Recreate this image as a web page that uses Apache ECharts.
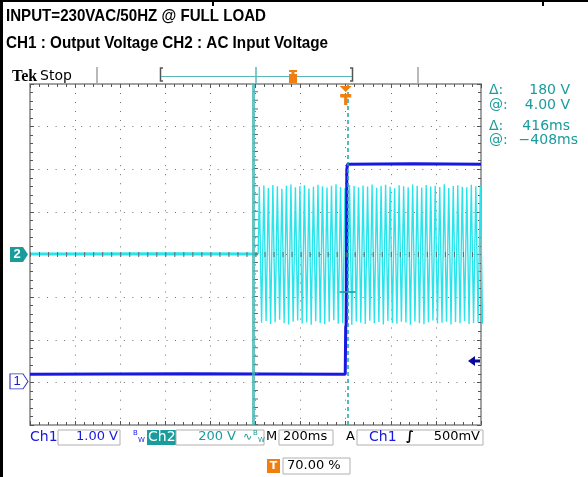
<!DOCTYPE html>
<html>
<head>
<meta charset="utf-8">
<script src="https://cdn.jsdelivr.net/npm/echarts@6/dist/echarts.min.js"></script>
<style>
html, body { margin: 0; padding: 0; background: #fff; }
#chart { width: 588px; height: 477px; }
</style>
</head>
<body>
<div id="chart"></div>
<script>
// scope settings
const timeMin = -1400, timeMax = 600, timeDiv = 200;   // ms, trigger at 70 %
const ch2Min = -800, ch2Max = 800, ch2Div = 200;        // V, 200 V/div
const ch1Min = -1, ch1Max = 7;                          // V, 1.00 V/div

// CH1 : output voltage
const ch1Time = [-1400, -700, -2, 0, 2, 5, 9, 300, 600];
const ch1Volt = [0.19, 0.2, 0.19, 1.3, 1.35, 5.0, 5.12, 5.13, 5.12];

// CH2 : AC input, flat until the mains comes on
const ch2FlatTime = [-1400, -700, -388];
const ch2FlatVolt = [2, 3, 2];
// then one peak per half cycle of 50 Hz (10 ms apart)
const ch2Start = -383, ch2Step = 10;
const ch2Peaks = [
  318, -320, 324, -312, 312, -326, 326, -318, 320, -306, 308, -322, 322, -328, 328, -315,
  315, -310, 321, -324, 325, -319, 310, -330, 318, -313, 327, -321, 320, -327, 314, -316,
  323, -309, 329, -325, 317, -322, 312, -318, 326, -329, 321, -314, 316, -320, 324, -326,
  319, -311, 328, -323, 313, -317, 322, -328, 327, -312, 318, -321, 311, -325, 325, -316,
  320, -319, 316, -330, 328, -314, 322, -322, 314, -327, 326, -318, 319, -310, 323, -324,
  317, -320, 329, -315, 312, -328, 321, -317, 325, -323, 318, -312, 315, -326, 327, -321,
  320, -319, 324, -325
];

// cursors and trigger
const cursorT1 = -408, cursorT2 = 8, cursorMarkV = -176;
const trigTime = 0, trigLevel = 0.5;
const readoutLabels = ['Δ:', '@:', 'Δ:', '@:'];
const readoutValues = ['180 V', '4.00 V', '416ms', '−408ms'];

const blue = '#1818e0';
const cyan = '#2ae4ec';
const teal = '#1a9c9c';
const orange = '#f07f10';
const frameGrey = '#a2a2a2';
const dotGrey = '#6e6e6e';

const ch1Data = ch1Time.map((t, i) => [t, ch1Volt[i]]);
const ch2FlatData = ch2FlatTime.map((t, i) => [t, ch2FlatVolt[i]]);
const ch2AcData = [ch2FlatData[ch2FlatData.length - 1]]
  .concat(ch2Peaks.map((v, i) => [ch2Start + i * ch2Step, v]));

const chart = echarts.init(document.getElementById('chart'));

function edgeAxis(pos, extra) {
  return Object.assign({
    type: 'value',
    position: pos,
    axisLine: { show: true, onZero: false, lineStyle: { color: frameGrey, width: 2 } },
    axisTick: { show: true, inside: true, length: 4, lineStyle: { color: '#555' } },
    minorTick: { show: true, splitNumber: 5, length: 3, lineStyle: { color: '#555' } },
    axisLabel: { show: false },
    splitLine: { show: false }
  }, extra);
}

function txt(x, y, s, color, font, align) {
  return {
    type: 'text', x: x, y: y, silent: true,
    style: { text: s, fill: color, font: font || '13px "DejaVu Sans"', align: align || 'left', verticalAlign: 'middle' }
  };
}
function box(x, y, w, h, fill, stroke) {
  return { type: 'rect', silent: true, shape: { x: x, y: y, width: w, height: h },
    style: { fill: fill || 'none', stroke: stroke || null } };
}
function seg(x1, y1, x2, y2, color, w) {
  return { type: 'line', silent: true, shape: { x1: x1, y1: y1, x2: x2, y2: y2 }, style: { stroke: color, lineWidth: w } };
}

// the titles are in a narrow bold face; squeeze a normal bold face to the same width
const titleFont = 'bold 17px "Liberation Sans", Arial, sans-serif';
const measureCtx = document.createElement('canvas').getContext('2d');
function squeezed(x, y, s, width) {
  measureCtx.font = titleFont;
  const el = txt(x, y, s, '#000', titleFont);
  el.scaleX = width / measureCtx.measureText(s).width;
  return el;
}

const smallFont = '7px "DejaVu Sans"';

const graphics = [
  // page frame
  box(0, 0, 3, 477, '#000'),
  box(0, 0, 588, 2, '#000'),
  box(212, 0, 2, 6, '#000'),
  box(542, 0, 2, 6, '#000'),
  // titles
  squeezed(6, 16, 'INPUT=230VAC/50HZ @ FULL LOAD', 260),
  squeezed(6, 43, 'CH1 : Output Voltage CH2 : AC Input Voltage', 322),
  // scope header
  txt(12, 77, 'Tek', '#000', 'bold 16px "Liberation Serif"'),
  txt(40, 76, 'Stop', '#000', '14px "DejaVu Sans"'),
  seg(97, 67, 97, 84, frameGrey, 1.5),
  seg(418, 67, 418, 84, frameGrey, 1.5),
  { type: 'polyline', silent: true, shape: { points: [[163, 68], [160.5, 68], [160.5, 81], [163, 81]] }, style: { stroke: '#555', lineWidth: 1.5, fill: 'none' } },
  { type: 'polyline', silent: true, shape: { points: [[350, 68], [352.5, 68], [352.5, 81], [350, 81]] }, style: { stroke: '#555', lineWidth: 1.5, fill: 'none' } },
  seg(161, 76.5, 352, 76.5, '#58b8b8', 1.2),
  seg(256, 67, 256, 84, '#58b8b8', 1.5),
  { type: 'polygon', silent: true,
    shape: { points: [[289, 70], [297, 70], [297, 72], [294.5, 72], [294.5, 74], [297, 74], [297, 83], [289, 83], [289, 74], [291.5, 74], [291.5, 72], [289, 72]] },
    style: { fill: orange } },
  // cursor read-outs
  ...readoutLabels.map((s, i) => txt(489, [90, 105, 126, 140][i], s, teal, '14px "DejaVu Sans"')),
  ...readoutValues.map((s, i) => txt(i === 3 ? 578 : 570, [90, 105, 126, 140][i], s, teal, '14px "DejaVu Sans"', 'right')),
  // status bar
  txt(30, 437, 'Ch1', blue, '14px "DejaVu Sans"'),
  box(58, 430, 62, 15, null, '#b0b0b0'),
  txt(118, 437, '1.00 V', blue, null, 'right'),
  txt(133, 433, 'B', blue, smallFont),
  txt(138, 440, 'W', blue, smallFont),
  box(147, 430, 29, 15, teal),
  txt(148, 437, 'Ch2', '#fff', '14px "DejaVu Sans"'),
  box(176, 430, 88, 15, null, '#b0b0b0'),
  txt(236, 437, '200 V', teal, null, 'right'),
  txt(243, 437, '∿', teal, '11px "DejaVu Sans"'),
  txt(253, 433, 'B', teal, smallFont),
  txt(258, 440, 'W', teal, smallFont),
  txt(266, 437, 'M', '#000'),
  box(279, 430, 54, 15, null, '#b0b0b0'),
  txt(283, 437, '200ms', '#000'),
  txt(346, 437, 'A', '#000'),
  box(357, 430, 126, 15, null, '#b0b0b0'),
  txt(369, 437, 'Ch1', blue, '14px "DejaVu Sans"'),
  txt(406, 437, '∫', '#000', 'bold italic 13px "DejaVu Sans"'),
  txt(480, 437, '500mV', '#000', null, 'right'),
  box(267, 459, 13, 14, orange),
  txt(273.5, 466, 'T', '#fff', 'bold 11px "DejaVu Sans"', 'center'),
  box(283, 458, 67, 16, null, '#b0b0b0'),
  txt(287, 466, '70.00 %', '#000')
];

const option = {
  animation: false,
  backgroundColor: '#fff',
  grid: { left: 30, top: 84, width: 451, height: 341, show: false },
  xAxis: [
    edgeAxis('bottom', {
      min: timeMin, max: timeMax, interval: timeDiv,
      splitLine: { show: true, lineStyle: { color: dotGrey, width: 1, type: [1, 8.02] } }
    }),
    edgeAxis('top', { min: timeMin, max: timeMax, interval: timeDiv })
  ],
  yAxis: [
    edgeAxis('left', {
      min: ch2Min, max: ch2Max, interval: ch2Div,
      splitLine: { show: true, lineStyle: { color: dotGrey, width: 1, type: [1, 7.53] } }
    }),
    edgeAxis('right', { min: ch2Min, max: ch2Max, interval: ch2Div }),
    { type: 'value', show: false, min: ch1Min, max: ch1Max }
  ],
  graphic: graphics,
  series: [
    {
      name: 'CH2 AC', type: 'line', xAxisIndex: 0, yAxisIndex: 0,
      data: ch2AcData, showSymbol: false, z: 2,
      lineStyle: { color: cyan, width: 1.4 }
    },
    {
      name: 'CH2', type: 'line', xAxisIndex: 0, yAxisIndex: 0,
      data: ch2FlatData, showSymbol: false, clip: false, z: 2,
      lineStyle: { color: cyan, width: 3 },
      markLine: {
        silent: true, symbol: ['none', 'none'], label: { show: false },
        data: [
          { xAxis: -400, lineStyle: { color: '#666', width: 5, type: [1, 7.53], cap: 'butt' } },
          { yAxis: 0, lineStyle: { color: '#666', width: 5, type: [1, 8.02], cap: 'butt' } },
          { xAxis: cursorT1, lineStyle: { color: 'rgba(70,180,180,0.8)', width: 3, type: 'solid' } },
          { xAxis: cursorT2, lineStyle: { color: '#1aa6a6', width: 1.5, type: [4, 3] } }
        ]
      },
      markPoint: {
        silent: true,
        data: [
          { coord: [timeMin, 0], symbol: 'path://M0,0 L13,0 L18,7.5 L13,15 L0,15 Z', symbolSize: [18, 15], symbolOffset: [-11, 0],
            itemStyle: { color: teal },
            label: { show: true, formatter: '2', color: '#fff', fontWeight: 'bold', fontSize: 13, offset: [-2, 0] } },
          { coord: [trigTime, ch2Max], symbol: 'path://M0,0 L12,0 L6,6 Z M0.5,8 L11.5,8 L11.5,11.5 L7.6,11.5 L7.6,19 L4.4,19 L4.4,11.5 L0.5,11.5 Z',
            symbolSize: [12, 19], symbolOffset: [0, 11.5], itemStyle: { color: orange }, label: { show: false } },
          { coord: [cursorT2, cursorMarkV], symbol: 'rect', symbolSize: [16, 1.6], itemStyle: { color: teal }, label: { show: false } }
        ]
      }
    },
    {
      name: 'CH1', type: 'line', xAxisIndex: 0, yAxisIndex: 2,
      data: ch1Data, showSymbol: false, clip: false, z: 3,
      lineStyle: { color: blue, width: 3 },
      markPoint: {
        silent: true,
        data: [
          { coord: [timeMin, 0], symbol: 'path://M0,0 L13,0 L18,7.5 L13,15 L0,15 Z', symbolSize: [18, 15], symbolOffset: [-11, -1],
            itemStyle: { color: '#fff', borderColor: '#3030c0', borderWidth: 1 },
            label: { show: true, formatter: '1', color: '#2020b0', fontSize: 13, offset: [-2, 0] } },
          { coord: [timeMax, trigLevel], symbol: 'path://M0,5 L7,0 L7,3.5 L12,3.5 L12,6.5 L7,6.5 L7,10 Z', symbolSize: [12, 10], symbolOffset: [-7, 0],
            itemStyle: { color: '#0a0a9a' }, label: { show: false } }
        ]
      }
    }
  ]
};

chart.setOption(option);
</script>
</body>
</html>
